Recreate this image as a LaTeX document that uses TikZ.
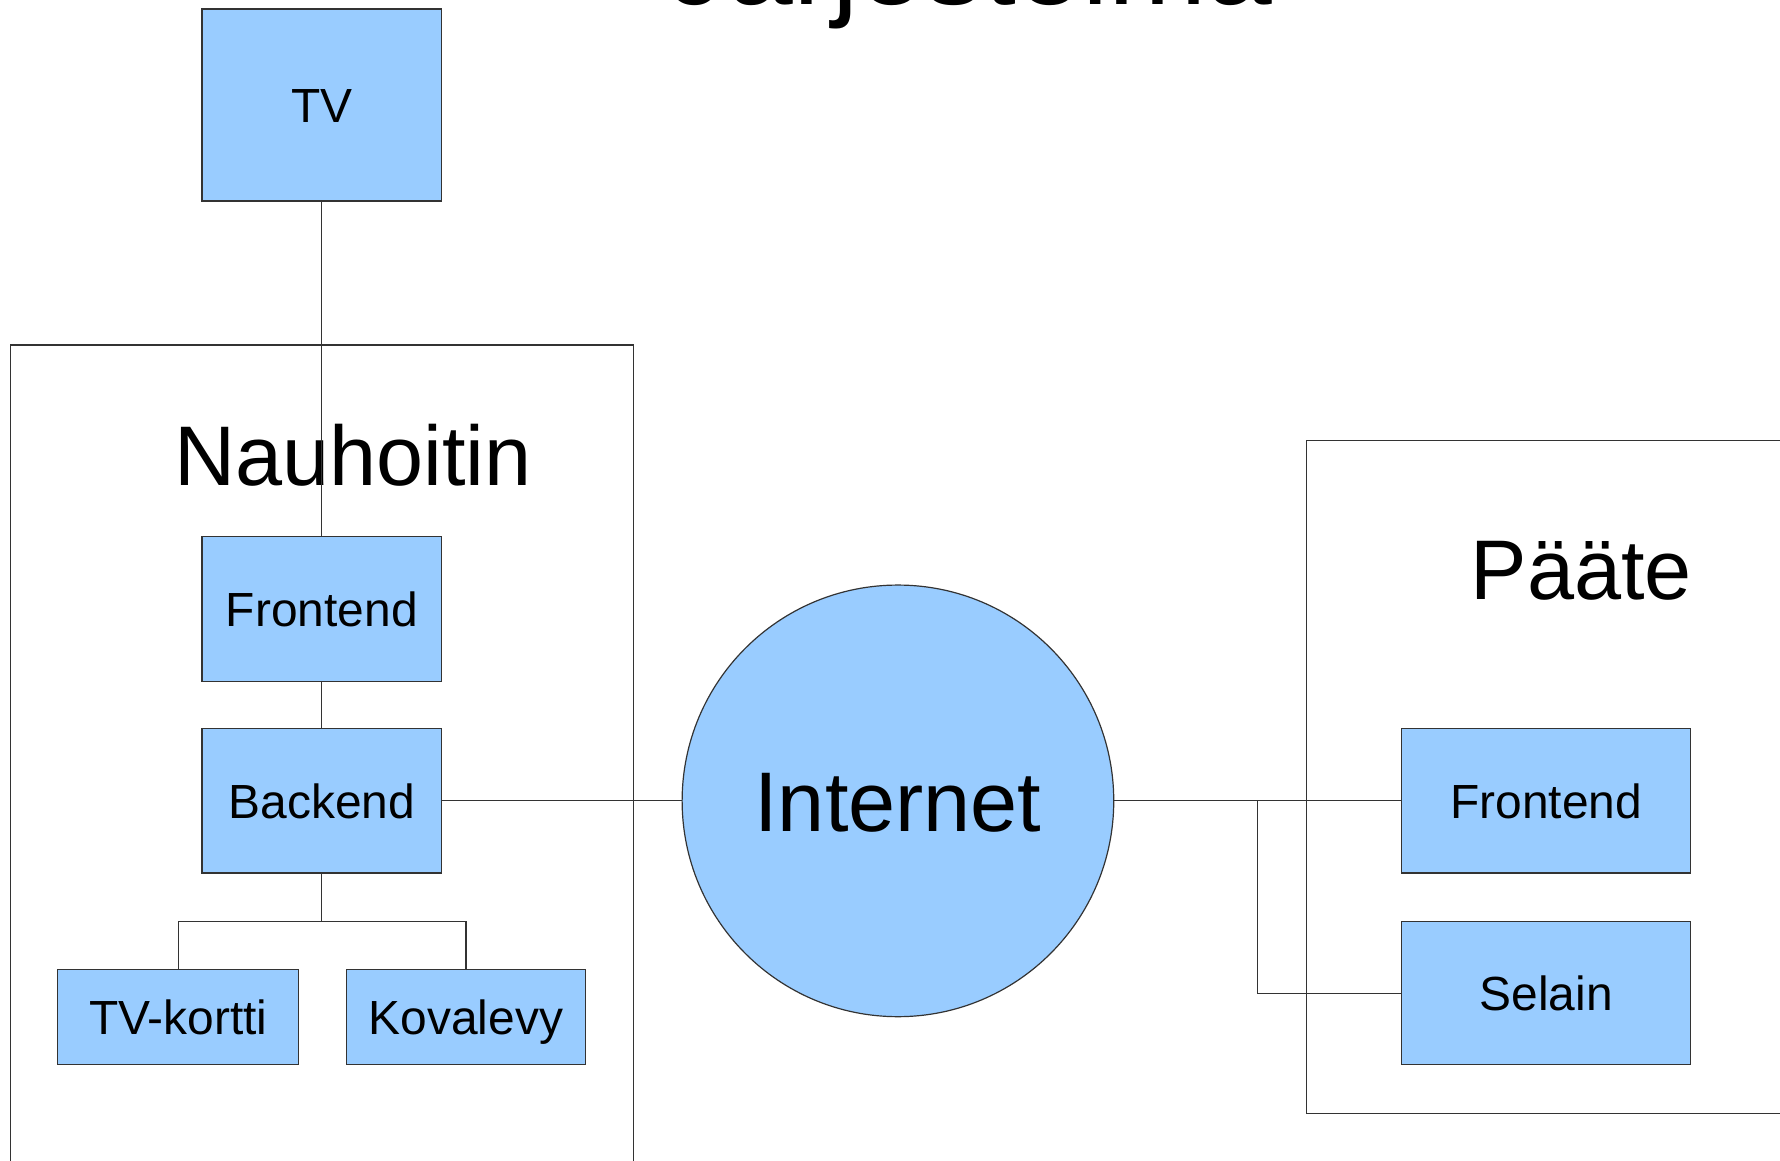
\documentclass[tikz,border=0pt]{standalone}
\usepackage{fontspec}
\setmainfont{Liberation Sans}
\definecolor{boxblue}{HTML}{99CCFF}
\definecolor{edge}{HTML}{333333}
\begin{document}
\begin{tikzpicture}[x=0.01cm,y=-0.01cm,
  every node/.style={inner sep=0pt,outer sep=0pt},
  bluebox/.style={draw=edge,line width=0.3pt,fill=boxblue,rectangle,
    font=\fontsize{12pt}{14pt}\selectfont,text height=8.6pt,text depth=0pt},
  bigtext/.style={font=\fontsize{21.2pt}{25pt}\selectfont,anchor=base},
  conn/.style={draw=edge,line width=0.3pt},
  frame/.style={draw=edge,line width=0.3pt}]
\useasboundingbox (0,0) rectangle (1568,1022);
% containers
\draw[frame] (9,1060) -- (9,304) -- (558,304) -- (558,1060);
\draw[frame] (1620,388) -- (1151,388) -- (1151,981) -- (1620,981);
% title and headings
\node[font=\fontsize{29.6pt}{34pt}\selectfont,anchor=base] (title) at (855,4) {Järjestelmä};
\node[bigtext] (nauh) at (311,428) {Nauhoitin};
\node[bigtext] (paate) at (1393,528) {Pääte};
% nodes
\node[bluebox,minimum width=2.11cm,minimum height=1.69cm] (tv) at (283.5,92.5) {TV};
\node[bluebox,minimum width=2.11cm,minimum height=1.27cm] (fe1) at (283.5,536.5) {Frontend};
\node[bluebox,minimum width=2.11cm,minimum height=1.27cm] (be) at (283.5,705.5) {Backend};
\node[bluebox,minimum width=2.12cm,minimum height=0.84cm] (kortti) at (157,896) {TV-kortti};
\node[bluebox,minimum width=2.11cm,minimum height=0.84cm] (kova) at (410.5,896) {Kovalevy};
\node[draw=edge,line width=0.3pt,fill=boxblue,circle,minimum size=3.8cm,
  font=\fontsize{21.2pt}{25pt}\selectfont,text height=15.2pt,text depth=0pt] (inet) at (791,705.5) {Internet};
\node[bluebox,minimum width=2.54cm,minimum height=1.27cm] (fe2) at (1362,705.5) {Frontend};
\node[bluebox,minimum width=2.54cm,minimum height=1.26cm] (sel) at (1362,875) {Selain};
% connectors
\coordinate (bj) at (283.5,812);
\coordinate (pj) at (1108,705.5);
\draw[conn] (tv) -- (fe1);
\draw[conn] (fe1) -- (be);
\draw[conn] (be) -- (inet);
\draw[conn] (be) -- (bj);
\draw[conn] (bj) -| (kortti);
\draw[conn] (bj) -| (kova);
\draw[conn] (inet) -- (fe2);
\draw[conn] (pj) |- (sel);
\end{tikzpicture}
\end{document}
